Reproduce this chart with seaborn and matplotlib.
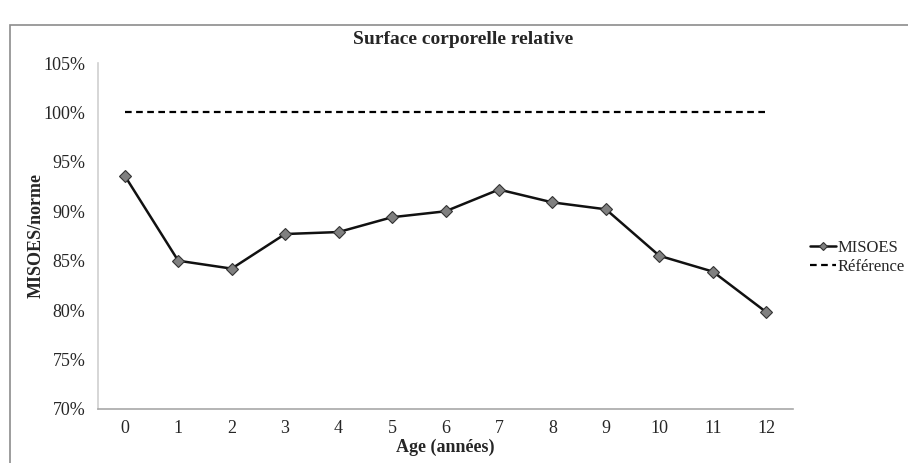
import matplotlib
matplotlib.use('Agg')
import matplotlib.pyplot as plt
import matplotlib.patches as patches
from matplotlib.ticker import PercentFormatter, MultipleLocator
import pandas as pd
import seaborn as sns

ages = ['0', '1', '2', '3', '4', '5', '6', '7', '8', '9', '10', '11', '12']
misoes = [0.936, 0.850, 0.842, 0.877, 0.879, 0.894, 0.900, 0.922, 0.909, 0.902, 0.855, 0.839, 0.798]
reference = [1.0, 1.0, 1.0, 1.0, 1.0, 1.0, 1.0, 1.0, 1.0, 1.0, 1.0, 1.0, 1.0]

df = pd.DataFrame({'age': range(len(ages)), 'MISOES': misoes, 'Référence': reference})

sns.set_style('white')
plt.rcParams['font.family'] = ['Liberation Serif', 'DejaVu Serif']

fig = plt.figure(figsize=(9.08, 4.63), dpi=100)
ax = fig.add_axes([98/908, 1 - 409/463, 695/908, 346/463])

# chart frame like the spreadsheet export
fig.patches.append(patches.Rectangle((10/908, -0.05), 1.0, 1 - 25/463 + 0.05,
                                     transform=fig.transFigure, fill=False,
                                     edgecolor='#8c8c8c', linewidth=1.2))

sns.lineplot(data=df, x='age', y='MISOES', ax=ax, color='#111111', linewidth=1.8,
             marker='D', markersize=6, markerfacecolor='#808080',
             markeredgecolor='#333333', markeredgewidth=0.8, label='MISOES')
sns.lineplot(data=df, x='age', y='Référence', ax=ax, color='black', linewidth=1.6,
             linestyle=(0, (3, 2)), label='Référence')

ax.set_xlim(-0.5, 12.5)
ax.set_ylim(0.70, 1.05)
ax.yaxis.set_major_locator(MultipleLocator(0.05))
ax.yaxis.set_major_formatter(PercentFormatter(1.0, decimals=0))
ax.set_xticks(range(len(ages)))
ax.set_xticklabels(ages)
ax.set_xticks([i - 0.5 for i in range(len(ages) + 1)], minor=True)
ax.tick_params(axis='x', which='major', length=0, pad=8, labelsize=13)
ax.tick_params(axis='x', which='minor', length=5, color='#b0b0b0', width=1)
ax.tick_params(axis='y', which='major', length=5, color='#c8c8c8', width=1, labelsize=13, pad=4)

for s in ['top', 'right']:
    ax.spines[s].set_visible(False)
ax.spines['left'].set_color('#d0d0d0')
ax.spines['bottom'].set_color('#a8a8a8')
ax.spines['left'].set_linewidth(1.2)
ax.spines['bottom'].set_linewidth(1.2)

ax.set_xlabel('Age (années)', fontsize=13, fontweight='bold', labelpad=1)
ax.set_ylabel('MISOES/norme', fontsize=13, fontweight='bold', labelpad=-1)
fig.text(463/908, 1 - 39/463, 'Surface corporelle relative', ha='center', va='center',
         fontsize=14, fontweight='bold')

leg = ax.legend(loc='center left', frameon=False, fontsize=12, handlelength=1.6,
                handletextpad=0.1, labelspacing=0.15, borderaxespad=0.0, borderpad=0.0)
leg.set_bbox_to_anchor((1.024, 0.438), transform=ax.transAxes)
for h in leg.get_lines():
    h.set_markersize(4)

fig.savefig('out.png', dpi=100)
